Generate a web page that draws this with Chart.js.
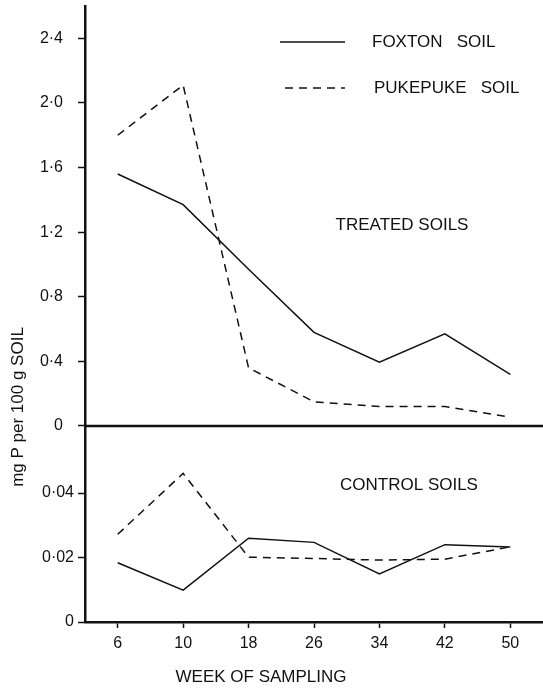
<!DOCTYPE html>
<html>
<head>
<meta charset="utf-8">
<script src="https://cdn.jsdelivr.net/npm/chart.js@4/dist/chart.umd.min.js"></script>
<style>
  html, body { margin: 0; padding: 0; background: #fff; }
  #wrap { width: 543px; height: 689px; position: relative; }
</style>
</head>
<body>
<div id="wrap"><canvas id="soilChart" width="543" height="689"></canvas></div>
<script>
// ===== P in soil over weeks of sampling =====

// categories (week of sampling)
const weeks = ['6', '10', '18', '26', '34', '42', '50'];

// treated soils (mg P per 100 g soil)
const foxtonTreated   = [1.56, 1.37, 0.97, 0.58, 0.395, 0.57, 0.32];
const pukepukeTreated = [1.80, 2.11, 0.36, 0.15, 0.12, 0.12, 0.055];

// control soils
const foxtonControl   = [0.0184, 0.0099, 0.026, 0.0247, 0.0149, 0.024, 0.0233];
const pukepukeControl = [0.0272, 0.0461, 0.0201, 0.0197, 0.0192, 0.0195, 0.0233];

// tick labels
const treatedTicks = [0, 0.4, 0.8, 1.2, 1.6, 2.0, 2.4];
const controlTicks = [0, 0.02, 0.04];

const FONT = '"Liberation Sans", Arial, Helvetica, sans-serif';
const INK = '#111';

function dotted(v, d) {
    if (v === 0) return '0';
    return v.toFixed(d).replace('.', '\u00b7');
}

// Draws legend, panel captions, axis titles and the divider line
const annotationsPlugin = {
    id: 'annotations',
    afterDraw(chart) {
        const ctx = chart.ctx;
        const area = chart.chartArea;
        const yTop = chart.scales.yTop;
        const ds = chart.data.datasets;

        ctx.save();

        // divider between panels (zero of the treated axis)
        const y0 = Math.round(yTop.getPixelForValue(0));
        ctx.strokeStyle = INK;
        ctx.lineWidth = 2.5;
        ctx.beginPath();
        ctx.moveTo(area.left, y0);
        ctx.lineTo(area.right, y0);
        ctx.stroke();

        // legend
        ctx.font = '17px ' + FONT;
        ctx.fillStyle = INK;
        ctx.textBaseline = 'middle';
        ctx.textAlign = 'left';
        const legendRows = [
            { ds: ds[0], x1: 280, x2: 345, y: 42, tx: 372, label: 'FOXTON   SOIL' },
            { ds: ds[1], x1: 285, x2: 345, y: 88, tx: 374, label: 'PUKEPUKE   SOIL' }
        ];
        legendRows.forEach(r => {
            ctx.strokeStyle = r.ds.borderColor;
            ctx.lineWidth = r.ds.borderWidth;
            ctx.setLineDash(r.ds.borderDash || []);
            ctx.beginPath();
            ctx.moveTo(r.x1, r.y);
            ctx.lineTo(r.x2, r.y);
            ctx.stroke();
            ctx.setLineDash([]);
            ctx.fillText(r.label, r.tx, r.y);
        });

        // panel captions
        ctx.textAlign = 'center';
        ctx.fillText('TREATED SOILS', 402, 225);
        ctx.fillText('CONTROL SOILS', 409, 485);

        // x title
        ctx.fillText('WEEK OF SAMPLING', 261, 677);

        // y title
        ctx.translate(18, 407);
        ctx.rotate(-Math.PI / 2);
        ctx.fillText('mg P per 100 g SOIL', 0, 0);

        ctx.restore();
    }
};

const ctx = document.getElementById('soilChart');

const yGrid = {
    display: true,
    drawOnChartArea: false,
    drawTicks: true,
    tickLength: 7,
    tickColor: INK,
    tickWidth: 1.5
};

// fixed axis width, no extra room reserved for label overflow
function fitY(scale) {
    scale.width = 85;
    scale.paddingTop = 0;
    scale.paddingBottom = 0;
}

new Chart(ctx, {
    type: 'line',
    data: {
        labels: weeks,
        datasets: [
            {
                label: 'FOXTON SOIL',
                data: foxtonTreated,
                yAxisID: 'yTop',
                borderColor: INK,
                borderWidth: 1.5,
                pointRadius: 0,
                tension: 0
            },
            {
                label: 'PUKEPUKE SOIL',
                data: pukepukeTreated,
                yAxisID: 'yTop',
                borderColor: INK,
                borderWidth: 1.5,
                borderDash: [8, 6],
                pointRadius: 0,
                tension: 0
            },
            {
                label: 'FOXTON SOIL (control)',
                data: foxtonControl,
                yAxisID: 'yBot',
                borderColor: INK,
                borderWidth: 1.5,
                pointRadius: 0,
                tension: 0
            },
            {
                label: 'PUKEPUKE SOIL (control)',
                data: pukepukeControl,
                yAxisID: 'yBot',
                borderColor: INK,
                borderWidth: 1.5,
                borderDash: [8, 6],
                pointRadius: 0,
                tension: 0
            }
        ]
    },
    options: {
        responsive: false,
        animation: false,
        layout: { padding: { top: 6, right: 0, left: 0, bottom: 0 } },
        plugins: {
            legend: { display: false },
            tooltip: { enabled: false }
        },
        scales: {
            x: {
                type: 'category',
                offset: true,
                grid: {
                    display: true,
                    drawOnChartArea: false,
                    drawTicks: true,
                    tickLength: 6,
                    tickColor: INK,
                    tickWidth: 1.5
                },
                border: { display: true, color: INK, width: 2.5 },
                ticks: {
                    color: INK,
                    padding: 6,
                    maxRotation: 0,
                    font: { family: FONT, size: 16 }
                },
                afterFit(scale) {
                    scale.height = 67;
                    scale.paddingLeft = 0;
                    scale.paddingRight = 0;
                }
            },
            // stacked axes: the first one listed sits at the bottom
            yBot: {
                type: 'linear',
                position: 'left',
                stack: 'panels',
                stackWeight: 196,
                min: 0,
                max: 0.0608,
                afterBuildTicks(scale) {
                    scale.ticks = controlTicks.map(v => ({ value: v }));
                },
                grid: yGrid,
                border: { display: true, color: INK, width: 2.5 },
                ticks: {
                    color: INK,
                    padding: 4,
                    font: { family: FONT, size: 16 },
                    callback: v => dotted(v, 2)
                },
                afterFit: fitY
            },
            yTop: {
                type: 'linear',
                position: 'left',
                stack: 'panels',
                stackWeight: 420,
                min: 0,
                max: 2.6,
                afterBuildTicks(scale) {
                    scale.ticks = treatedTicks.map(v => ({ value: v }));
                },
                grid: yGrid,
                border: { display: true, color: INK, width: 2.5 },
                ticks: {
                    color: INK,
                    padding: 15,
                    font: { family: FONT, size: 16 },
                    callback: v => dotted(v, 1)
                },
                afterFit: fitY
            }
        }
    },
    plugins: [annotationsPlugin]
});
</script>
</body>
</html>
